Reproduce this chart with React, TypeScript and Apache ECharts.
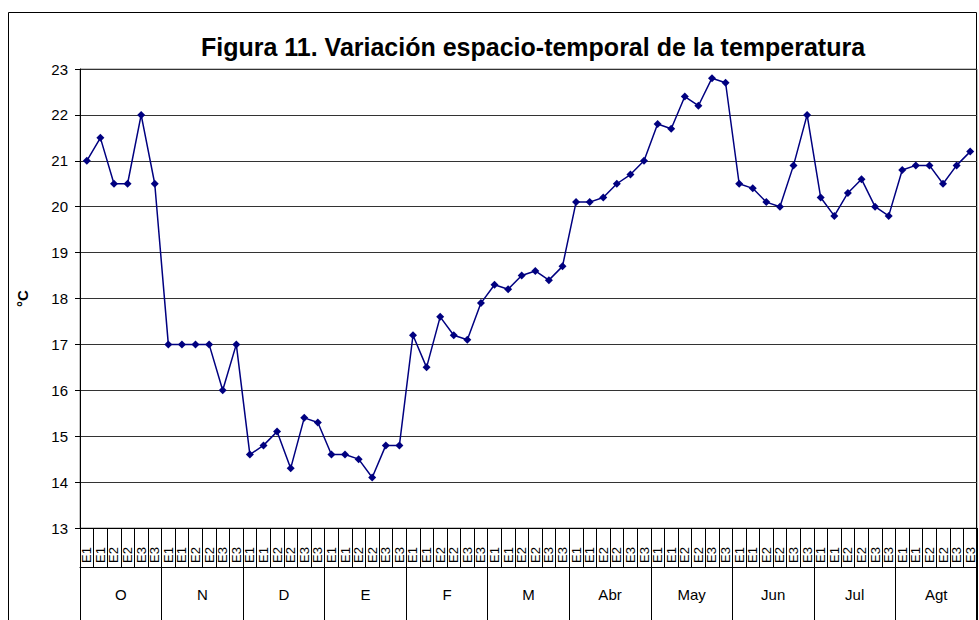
import React, { useEffect, useRef } from "react";
import * as echarts from "echarts";

const title = "Figura 11. Variación espacio-temporal de la temperatura";
const months = ["O", "N", "D", "E", "F", "M", "Abr", "May", "Jun", "Jul", "Agt"];
const subLabels = ["E1", "E1", "E2", "E2", "E3", "E3"];
const yTicks = { min: 13, max: 23, interval: 1 };
const valO = [21, 21.5, 20.5, 20.5, 22, 20.5];
const valN = [17, 17, 17, 17, 16, 17];
const valD = [14.6, 14.8, 15.1, 14.3, 15.4, 15.3];
const valE = [14.6, 14.6, 14.5, 14.1, 14.8, 14.8];
const valF = [17.2, 16.5, 17.6, 17.2, 17.1, 17.9];
const valM = [18.3, 18.2, 18.5, 18.6, 18.4, 18.7];
const valAbr = [20.1, 20.1, 20.2, 20.5, 20.7, 21.0];
const valMay = [21.8, 21.7, 22.4, 22.2, 22.8, 22.7];
const valJun = [20.5, 20.4, 20.1, 20.0, 20.9, 22.0];
const valJul = [20.2, 19.8, 20.3, 20.6, 20.0, 19.8];
const valAgt = [20.8, 20.9, 20.9, 20.5, 20.9, 21.2];

const monthValues = [valO, valN, valD, valE, valF, valM, valAbr, valMay, valJun, valJul, valAgt];

export default function App() {
  const ref = useRef<HTMLDivElement>(null);
  useEffect(() => {
    if (!ref.current) return;
    const chart = echarts.init(ref.current, null, { renderer: "svg" });
    const categories: string[] = [];
    const data: number[] = [];
    months.forEach((m, i) => {
      subLabels.forEach((s, j) => {
        categories.push(m + "-" + j);
        data.push(monthValues[i][j]);
      });
    });
    const font = "Arial, 'Liberation Sans', sans-serif";
    chart.setOption({
      animation: false,
      backgroundColor: "#fff",
      textStyle: { fontFamily: font },
      title: {
        text: title,
        left: 528,
        textAlign: "center",
        top: 29,
        textStyle: { fontSize: 25, fontWeight: "bold", color: "#000", fontFamily: font },
      },
      graphic: [
        {
          type: "rect",
          shape: { x: 8.5, y: 12.5, width: 968, height: 640 },
          style: { fill: "none", stroke: "#000", lineWidth: 1 },
          silent: true,
        },
      ],
      grid: {
        left: 80,
        right: 2,
        top: 69,
        bottom: 92,
        show: true,
        borderColor: "#888",
        borderWidth: 1,
      },
      xAxis: [
        {
          type: "category",
          data: categories,
          boundaryGap: true,
          position: "bottom",
          axisLine: { lineStyle: { color: "#000" } },
          axisTick: { show: true, interval: 0, length: 39, lineStyle: { color: "#000" } },
          axisLabel: {
            interval: 0,
            rotate: 90,
            fontSize: 13,
            margin: 19,
            color: "#000",
            formatter: (v: string) => subLabels[Number(v.split("-")[1])],
          },
          splitLine: { show: false },
        },
        {
          type: "category",
          data: months,
          boundaryGap: true,
          position: "bottom",
          offset: 39,
          axisLine: { show: true, lineStyle: { color: "#000" } },
          axisTick: { show: true, interval: 0, length: 60, lineStyle: { color: "#000" } },
          axisLabel: { interval: 0, fontSize: 15, margin: 20, color: "#000" },
          splitLine: { show: false },
        },
      ],
      yAxis: {
        type: "value",
        min: yTicks.min,
        max: yTicks.max,
        interval: yTicks.interval,
        name: "°C",
        nameLocation: "middle",
        nameRotate: 90,
        nameGap: 50,
        nameTextStyle: { fontSize: 15, fontWeight: "bold", color: "#000" },
        axisLine: { show: true, lineStyle: { color: "#000" } },
        axisTick: { show: true, length: 5, lineStyle: { color: "#000" } },
        axisLabel: { fontSize: 15, margin: 12, color: "#000" },
        splitLine: { show: true, lineStyle: { color: "#333", width: 1 } },
      },
      series: [
        {
          type: "line",
          xAxisIndex: 0,
          data,
          symbol: "diamond",
          symbolSize: 8,
          lineStyle: { color: "#000080", width: 1.5 },
          itemStyle: { color: "#000080" },
        },
      ],
    });
    return () => chart.dispose();
  }, []);
  return (
    <div
      ref={ref}
      style={{ position: "fixed", left: 0, top: 0, width: 979, height: 620 }}
    />
  );
}
